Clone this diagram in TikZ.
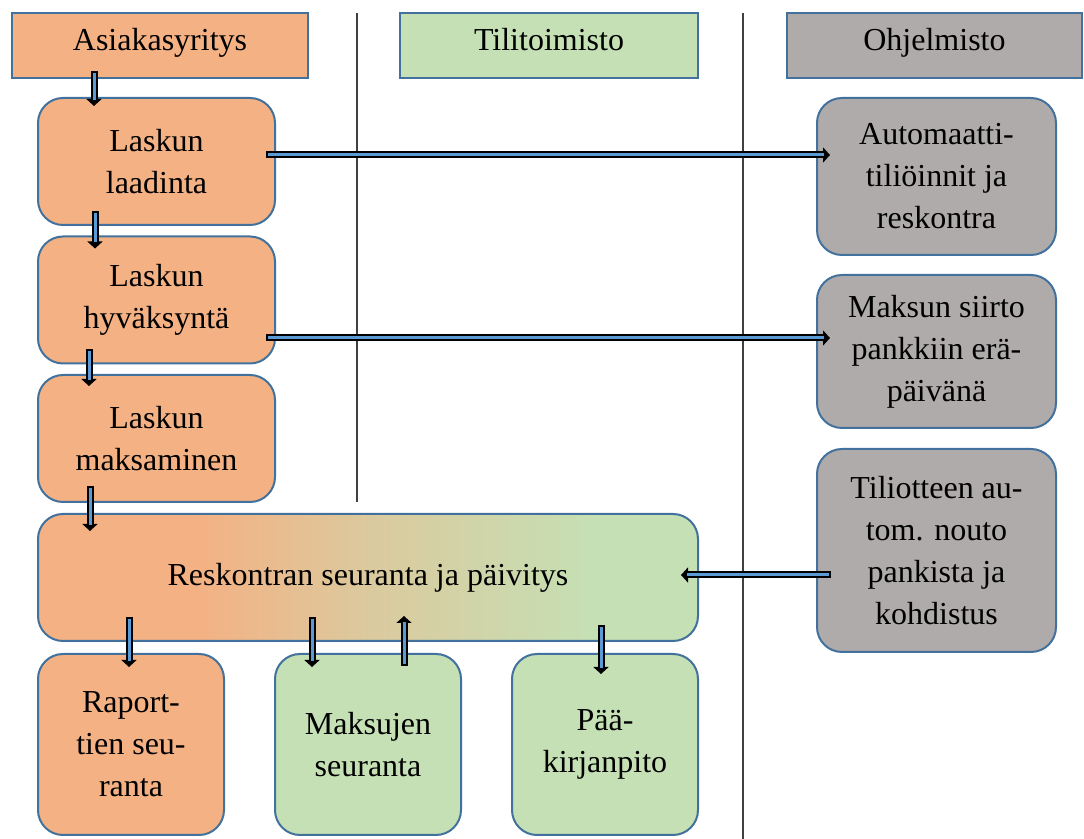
\documentclass[tikz,border=0pt]{standalone}
\usepackage{fontspec}
\setmainfont{Liberation Serif}
\usetikzlibrary{arrows.meta,calc}
\definecolor{cOrange}{HTML}{F4B183}
\definecolor{cGreen}{HTML}{C5E0B4}
\definecolor{cGrey}{HTML}{AFABAB}
\definecolor{cBorder}{HTML}{41719C}
\definecolor{cArrow}{HTML}{5B9BD5}
\pgfdeclarehorizontalshading{ogshade}{100bp}{rgb(0bp)=(0.957,0.694,0.514); rgb(37bp)=(0.957,0.694,0.514); rgb(50bp)=(0.86,0.79,0.62); rgb(67bp)=(0.773,0.878,0.706); rgb(100bp)=(0.773,0.878,0.706)}
\tikzset{
  txt/.style={font=\fontsize{16pt}{21pt}\selectfont, align=center, text=black},
  header/.style={txt, draw=cBorder, line width=1pt, inner sep=0pt, text height=0.72em, text depth=0.22em},
  box/.style={txt, draw=cBorder, line width=1pt, rounded corners=12.5pt, inner sep=0pt},
  flow/.style={draw=black, line width=3.5pt, -{Triangle[length=3.5pt,width=7.5pt]},
    postaction={draw=cArrow, line width=1.5pt, -, shorten >=3pt, shorten <=1pt}},
  sep/.style={draw=black!75, line width=0.7pt}
}
\begin{document}
\begin{tikzpicture}[x=0.5pt,y=-0.5pt]
\useasboundingbox (0,0) rectangle (1084,839);
% separators
\coordinate (s1a) at (357,13); \coordinate (s1b) at (357,502);
\coordinate (s2a) at (743,13); \coordinate (s2b) at (743,839);
\draw[sep] (s1a) -- (s1b);
\draw[sep] (s2a) -- (s2b);
% headers
\node[header, fill=cOrange, minimum width=148pt, minimum height=32.5pt] (hA) at (160,45.5) {Asiakasyritys};
\node[header, fill=cGreen, minimum width=149pt, minimum height=32.5pt] (hT) at (549,45.5) {Tilitoimisto};
\node[header, fill=cGrey, minimum width=147.5pt, minimum height=32.5pt] (hO) at (934.5,45.5) {Ohjelmisto};
% left column
\node[box, fill=cOrange, minimum width=118.5pt, minimum height=63.5pt] (b1) at (156.5,161.5) {Laskun\\laadinta};
\node[box, fill=cOrange, minimum width=118.5pt, minimum height=63.5pt] (b2) at (156.5,300) {Laskun\\hyväksyntä};
\node[box, fill=cOrange, minimum width=118.5pt, minimum height=63.5pt] (b3) at (156.5,438.5) {Laskun\\maksaminen};
% reskontra
\node[box, shading=ogshade, minimum width=330pt, minimum height=63.5pt] (res) at (368,577.5) {Reskontran seuranta ja päivitys};
% bottom row
\node[box, fill=cOrange, minimum width=93pt, minimum height=90.5pt] (r1) at (131,744.5) {Raport-\\tien seu-\\ranta};
\node[box, fill=cGreen, minimum width=93pt, minimum height=90.5pt] (r2) at (368,744.5) {Maksujen\\seuranta};
\node[box, fill=cGreen, minimum width=93pt, minimum height=90.5pt] (r3) at (605,744.5) {Pää-\\kirjanpito};
% right column
\node[box, fill=cGrey, minimum width=119.5pt, minimum height=78.5pt] (o1) at (936.5,176.5) {Automaatti-\\tiliöinnit ja\\reskontra};
\node[box, fill=cGrey, minimum width=119.5pt, minimum height=76.5pt] (o2) at (936.5,351.5) {Maksun siirto\\pankkiin erä-\\päivänä};
\node[box, fill=cGrey, minimum width=119.5pt, minimum height=101.5pt] (o3) at (936.5,550.5) {Tiliotteen au-\\tom. nouto\\pankista ja\\kohdistus};
% arrows
\draw[flow] ($(hA.south west)+(83,-8)$) -- ($(b1.north west)+(57,9)$);
\draw[flow] ($(b1.south west)+(58,-15)$) -- ($(b2.north west)+(58,13)$);
\draw[flow] ($(b2.south west)+(52,-15)$) -- ($(b3.north west)+(52,12)$);
\draw[flow] ($(b3.south west)+(53,-17)$) -- ($(res.north west)+(53,18)$);
\draw[flow] ($(b1.east)+(-10,-6.5)$) -- ($(o1.west)+(14,-21.5)$);
\draw[flow] ($(b2.east)+(-10,38)$) -- ($(o2.west)+(14,-13.5)$);
\draw[flow] ($(o3.west)+(15,24.5)$) -- ($(res.east)+(-18,-2.5)$);
\draw[flow] ($(res.south west)+(92,-25)$) -- ($(r1.north west)+(92,14)$);
\draw[flow] ($(res.south west)+(275,-25)$) -- ($(r2.north west)+(38,14)$);
\draw[flow] ($(r2.north west)+(130,13)$) -- ($(res.south west)+(367,-26)$);
\draw[flow] ($(res.south west)+(564,-17)$) -- ($(r3.north west)+(90,21)$);
\end{tikzpicture}
\end{document}
